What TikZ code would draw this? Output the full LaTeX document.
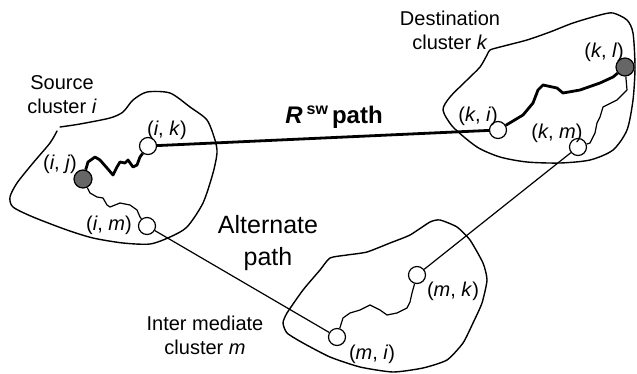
\documentclass[tikz,border=0pt]{standalone}
\usepackage{fontspec}
\setmainfont{Liberation Sans}
\begin{document}
\begin{tikzpicture}[x=1pt,y=-1pt,
  outline/.style={line width=1.4pt, line join=round, line cap=round},
  wiggle/.style={line width=1.2pt, line join=round},
  thickwiggle/.style={line width=2.8pt, line join=round},
  wnode/.style={circle, draw, line width=1.2pt, fill=white, minimum size=17pt, inner sep=0pt},
  dnode/.style={circle, draw, line width=1.2pt, fill=black!60, minimum size=18pt, inner sep=0pt},
  lbl/.style={font=\fontsize{20}{24}\selectfont, inner sep=0pt},
  clbl/.style={font=\fontsize{20}{24}\selectfont, align=center, inner sep=0pt}]
\useasboundingbox (0,0) rectangle (637,373);

% cluster outlines
\draw[outline] plot[smooth, tension=0.45] coordinates {
 (60,127) (80,124) (110,118) (123,112) (133,100) (147,92) (170,93) (190,107)
 (207,120) (215,140) (217,153) (213,173) (203,203) (187,227) (170,237) (150,244)
 (123,243) (93,238) (67,230) (33,217) (13,207) (10,197) (17,183) (33,163) (50,143) (57,131)};
\draw[outline] plot[smooth cycle, tension=0.45] coordinates {
 (490,50) (500,47) (527,40) (550,32) (573,23) (600,15) (613,13) (627,20) (633,33)
 (635,67) (633,100) (627,130) (613,150) (590,160) (560,163) (527,162) (500,157)
 (477,147) (453,127) (443,110) (450,97) (467,80) (480,67) (487,55)};
\draw[outline] plot[smooth cycle, tension=0.35] coordinates {
 (330,258) (347,255) (367,252) (390,243) (410,235) (430,222) (440,220) (457,227)
 (470,240) (483,263) (487,280) (482,303) (473,323) (463,343) (447,360) (423,368)
 (393,372) (360,367) (330,357) (303,343) (287,333) (283,323) (287,313) (303,290) (320,270)};

% nodes
\node[dnode] (ij) at (83,179) {};
\node[wnode] (ik) at (148,146) {};
\node[wnode] (im) at (147,226) {};
\node[dnode] (kl) at (625,67) {};
\node[wnode] (ki) at (498,130) {};
\node[wnode] (km) at (578,147) {};
\node[wnode] (mk) at (417,275) {};
\node[wnode] (mi) at (337,337) {};

% inter-cluster connectors
\draw[line width=2.8pt] (ik) -- (ki);
\draw[line width=1.2pt] (im) -- (mi);
\draw[line width=1.2pt] (km) -- (mk);

% intra-cluster paths
\draw[thickwiggle] (ij) -- (88,162) -- (95,157) -- (100,160) -- (107,168) -- (113,175)
  -- (117,167) -- (120,162) -- (125,163) -- (128,160) -- (133,167) -- (137,165)
  -- (140,157) -- (ik);
\draw[wiggle] (ij) -- (90,193) -- (97,197) -- (103,198) -- (107,205) -- (110,207)
  -- (120,203) -- (130,205) -- (137,210) -- (140,217) -- (im);
\draw[thickwiggle] (ki) -- (523,115) -- (533,103) -- (538,90) -- (543,85) -- (557,88)
  -- (563,93) -- (580,90) -- (600,83) -- (613,77) -- (kl);
\draw[wiggle] (kl) -- (627,90) -- (617,100) -- (603,107) -- (600,117) -- (597,123)
  -- (595,133) -- (590,143) -- (km);
\draw[wiggle] (mi) -- (343,318) -- (350,313) -- (360,310) -- (370,305) -- (380,310)
  -- (387,315) -- (397,313) -- (407,308) -- (410,302) -- (412,293) -- (mk);

% node labels
\node[lbl] (lij) at (60,164) {(\textit{i}, \textit{j})};
\node[lbl] (lik) at (167,130) {(\textit{i}, \textit{k})};
\node[lbl] (lim) at (109,225) {(\textit{i}, \textit{m})};
\node[lbl] (lkl) at (604,52) {(\textit{k}, \textit{l})};
\node[lbl] (lki) at (478,116) {(\textit{k}, \textit{i})};
\node[lbl] (lkm) at (557,133) {(\textit{k}, \textit{m})};
\node[lbl] (lmk) at (453,291) {(\textit{m}, \textit{k})};
\node[lbl] (lmi) at (372,354) {(\textit{m}, \textit{i})};

% cluster labels
\node[clbl] (src) at (62,95) {Source\\cluster \textit{i}};
\node[clbl] (dst) at (450,30) {Destination\\cluster \textit{k}};
\node[clbl] (itm) at (205,335) {Inter mediate\\cluster \textit{m}};

% path labels
\node[inner sep=0pt, font=\fontsize{24}{27}\selectfont\bfseries] (rsw) at (334,117)
  {\textit{R}\,\raisebox{0.4em}{\fontsize{16}{16}\selectfont sw}\,path};
\node[inner sep=0pt, align=center, font=\fontsize{25}{32}\selectfont] (alt) at (268,243)
  {Alternate\\path};
\end{tikzpicture}
\end{document}
